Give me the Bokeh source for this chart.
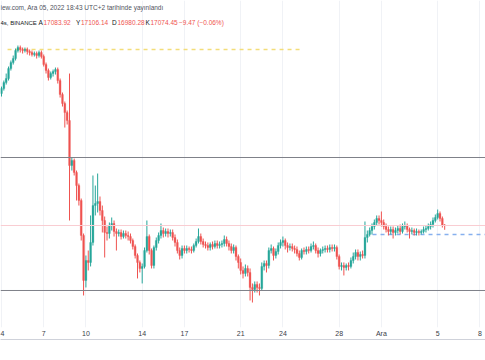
from bokeh.plotting import figure
from bokeh.models import Span, Label, FixedTicker, LinearAxis, Range1d, ColumnDataSource
from bokeh.embed import file_html
from bokeh.resources import INLINE

# ---- data: BTC/USDT, 4h candles, Binance, 4 Kasım – 5 Aralık 2022 ----
start_day = 4.0           # 4 Nov 00:00 (x axis unit = day of Nov; Dec 1 = 31)
step_day = 4.0 / 24.0     # 4 hour candles
first_open = 20217

closes = [
    20347, 20504, 20609, 20874, 21035, 21143, 21361, 21443, 21389, 21361,
    21389, 21334, 21307, 21252, 21279, 21225, 21307, 21198, 20981, 20821,
    20635, 20741, 20794, 20848, 20556, 20192, 19960, 19731, 19530, 18437,
    18556, 18273, 17970, 17629, 16857, 15914, 16326, 16285, 16707, 17516,
    17562, 17607, 17405, 17184, 16922, 16900, 17074, 17118, 16943, 16900,
    16922, 16835, 16900, 16857, 16835, 16749, 16621, 16431, 16285, 16160,
    16202, 16536, 16835, 16536, 16222, 16600, 16749, 16857, 16965, 16900,
    16943, 16900, 16922, 16814, 16707, 16536, 16431, 16579, 16536, 16579,
    16558, 16536, 16642, 16728, 16835, 16728, 16664, 16642, 16600, 16664,
    16621, 16685, 16642, 16664, 16685, 16771, 16685, 16621, 16536, 16600,
    16410, 16285, 16119, 16057, 16160, 16078, 15772, 15731, 15833, 15772,
    15752, 16202, 16264, 16222, 16536, 16579, 16431, 16515, 16642, 16707,
    16749, 16642, 16600, 16621, 16579, 16558, 16473, 16389, 16536, 16515,
    16558, 16536, 16621, 16642, 16536, 16473, 16536, 16558, 16579, 16558,
    16600, 16579, 16600, 16410, 16202, 16222, 16181, 16222, 16202, 16326,
    16410, 16494, 16410, 16452, 16431, 16814, 16879, 16965, 17052, 17140,
    17228, 17184, 17140, 17052, 16987, 16943, 16987, 16922, 16965, 17009,
    16943, 17052, 17074, 16987, 16943, 16965, 16922, 16943, 16922, 16943,
    16987, 17009, 17052, 17096, 17184, 17250, 17338, 17228, 17083.92, 17074.45,
]
highs = [
    20398, 20556, 20741, 20928, 21090, 21225, 21416, 21498, 21498, 21443,
    21443, 21443, 21389, 21361, 21334, 21334, 21361, 21361, 21252, 21035,
    20874, 20794, 20848, 20901, 20901, 20609, 20243, 20011, 19782, 20741,
    18627, 18602, 18319, 18017, 17674, 16900, 16431, 16536, 17295, 18203,
    17970, 18249, 17720, 17516, 17272, 17052, 17140, 17250, 17184, 17009,
    16987, 16987, 16965, 16965, 16943, 16900, 16792, 16664, 16473, 16326,
    16264, 16600, 17184, 16879, 16579, 16642, 16814, 16922, 17118, 17030,
    17009, 17009, 16987, 16987, 16879, 16771, 16600, 16642, 16642, 16642,
    16621, 16621, 16685, 16792, 17009, 16900, 16792, 16728, 16707, 16707,
    16728, 16749, 16749, 16728, 16749, 16857, 16835, 16749, 16685, 16664,
    16642, 16452, 16368, 16202, 16243, 16222, 16160, 15853, 15894, 15894,
    15853, 16285, 16326, 16326, 16600, 16664, 16621, 16579, 16707, 16771,
    16835, 16792, 16707, 16685, 16685, 16642, 16621, 16536, 16579, 16600,
    16621, 16621, 16685, 16728, 16685, 16600, 16579, 16621, 16642, 16642,
    16664, 16664, 16664, 16642, 16452, 16285, 16285, 16264, 16285, 16389,
    16494, 16558, 16558, 16515, 16536, 17162, 16965, 17030, 17118, 17206,
    17295, 17295, 17383, 17206, 17118, 17052, 17052, 17052, 17030, 17074,
    17096, 17118, 17162, 17118, 17030, 17030, 17009, 17009, 16987, 16987,
    17052, 17074, 17118, 17162, 17250, 17316, 17427, 17383, 17272, 17106.14,
]
lows = [
    20139, 20294, 20451, 20556, 20821, 20981, 21090, 21307, 21307, 21279,
    21307, 21252, 21225, 21198, 21198, 21143, 21170, 21143, 20928, 20741,
    20556, 20583, 20662, 20714, 20477, 20113, 19883, 19355, 19430, 17184,
    18319, 18203, 17629, 17516, 16749, 15611, 15772, 16119, 16202, 16642,
    17295, 17361, 17295, 16922, 16389, 16749, 16792, 16965, 16835, 16536,
    16835, 16771, 16792, 16792, 16749, 16685, 16558, 16368, 15955, 16078,
    15853, 16160, 16494, 16452, 16160, 16160, 16536, 16685, 16792, 16814,
    16835, 16814, 16835, 16749, 16621, 16473, 16347, 16368, 16473, 16473,
    16494, 16473, 16494, 16600, 16685, 16664, 16600, 16579, 16536, 16536,
    16558, 16579, 16579, 16579, 16600, 16621, 16621, 16536, 16473, 16473,
    16326, 16160, 16037, 15955, 15995, 15995, 15511, 15471, 15670, 15670,
    15611, 15711, 16119, 16078, 16160, 16473, 16326, 16368, 16452, 16579,
    16621, 16558, 16494, 16536, 16515, 16473, 16410, 16326, 16347, 16452,
    16452, 16473, 16494, 16558, 16473, 16389, 16410, 16473, 16494, 16494,
    16494, 16515, 16515, 16347, 16140, 16119, 16016, 16119, 16119, 16160,
    16264, 16347, 16326, 16326, 16368, 16368, 16707, 16835, 16879, 16987,
    17074, 17096, 17052, 16987, 16922, 16857, 16879, 16792, 16857, 16900,
    16879, 16900, 16987, 16922, 16792, 16879, 16857, 16857, 16857, 16879,
    16900, 16922, 16965, 16987, 17030, 17140, 17206, 17162, 17030, 16980.28,
]

# horizontal levels drawn on the chart
level_upper = 18627
level_lower = 15711
level_yellow = 21389
level_blue = 16879
last_price = 17074.45

tick_days = [4, 7, 10, 14, 17, 21, 24, 28, 31, 35, 38]
tick_labels = ["4", "7", "10", "14", "17", "21", "24", "28", "Ara", "5", "8"]

header_line1 = "iew.com, Ara 05, 2022 18:43 UTC+2 tarihinde yayınlandı"
symbol_text = "4s, BINANCE"
ohlc_names = ["A", "Y", "D", "K"]
ohlc_values = ["17083.92", "17106.14", "16980.28", "17074.45"]
change_text = "\u22129.47 (\u22120.06%)"

# ---- derived columns ----
opens = [first_open] + closes[:-1]
days = [start_day + i * step_day for i in range(len(closes))]
UP, DOWN = "#26a69a", "#ef5350"
colors = [UP if c >= o else DOWN for o, c in zip(opens, closes)]
tops = [max(o, c) for o, c in zip(opens, closes)]
bottoms = [min(o, c) for o, c in zip(opens, closes)]
src = ColumnDataSource(dict(x=days, o=opens, c=closes, h=highs, l=lows,
                            top=tops, bottom=bottoms, color=colors))

W, H = 485, 360
FRAME_H = 327
p = figure(width=W, height=H, output_backend="svg", toolbar_location=None,
           x_range=Range1d(3.929, 38.40), y_range=Range1d(14984, 22774),
           y_axis_type="log", y_axis_location=None,
           min_border_left=0, min_border_right=0, min_border_top=0,
           min_border_bottom=H - FRAME_H,
           background_fill_color="white", border_fill_color="white",
           outline_line_color=None)

p.xaxis.ticker = FixedTicker(ticks=tick_days)
p.xaxis.major_label_overrides = {d: t for d, t in zip(tick_days, tick_labels)}
p.xaxis.axis_line_color = None
p.xaxis.major_tick_line_color = None
p.xaxis.minor_tick_line_color = None
p.xaxis.major_tick_out = 0
p.xaxis.major_tick_in = 0
p.xaxis.major_label_text_font_size = "7px"
p.xaxis.major_label_text_font = "Liberation Sans"
p.xaxis.major_label_text_color = "#3a3d47"
p.xaxis.major_label_standoff = 2
p.xgrid.grid_line_color = "#f0f2f6"
p.ygrid.grid_line_color = None

bottom_line = LinearAxis(ticker=FixedTicker(ticks=[]), axis_line_color="#cfd2da",
                         major_tick_line_color=None, minor_tick_line_color=None,
                         major_tick_out=0, major_tick_in=0,
                         major_label_text_font_size="0px")
p.add_layout(bottom_line, "below")

# levels
p.add_layout(Span(location=last_price, dimension="width", line_color="#f9cdd2", line_width=1))
p.add_layout(Span(location=level_upper, dimension="width", line_color="#7f8189", line_width=1))
p.add_layout(Span(location=level_lower, dimension="width", line_color="#7f8189", line_width=1))
p.segment(x0=[4.43], y0=[level_yellow], x1=[25.25], y1=[level_yellow],
          line_color="#f3dd7a", line_width=1.5, line_dash="4 4")
p.segment(x0=[30.37], y0=[level_blue], x1=[40.0], y1=[level_blue],
          line_color="#86b0ee", line_width=1.5, line_dash="4 4")

# candles
p.segment(x0="x", y0="l", x1="x", y1="h", line_color="color", line_width=1, source=src)
p.vbar(x="x", width=0.13, top="top", bottom="bottom", fill_color="color",
       line_color="color", line_width=0.3, source=src)

# header texts
FONT = "Liberation Sans"
p.add_layout(Label(x=0, y=FRAME_H - 7, x_units="screen", y_units="screen",
                   text=header_line1, text_font=FONT, text_font_size="6.5px",
                   text_color="#50535e", text_baseline="middle"))
y2 = FRAME_H - 22
p.add_layout(Label(x=0, y=y2, x_units="screen", y_units="screen", text=symbol_text,
                   text_font=FONT, text_font_size="6px",
                   text_color="#131722", text_baseline="middle"))
name_x = [38.0, 75.5, 111.5, 145.0]
val_x = [43.0, 80.5, 117.0, 150.0]
for nx, vx, n, v in zip(name_x, val_x, ohlc_names, ohlc_values):
    p.add_layout(Label(x=nx, y=y2, x_units="screen", y_units="screen", text=n,
                       text_font=FONT, text_font_size="6.5px", text_color="#131722",
                       text_baseline="middle"))
    p.add_layout(Label(x=vx, y=y2, x_units="screen", y_units="screen", text=v,
                       text_font=FONT, text_font_size="6.5px", text_color="#ef5350",
                       text_baseline="middle"))
p.add_layout(Label(x=178.5, y=y2, x_units="screen", y_units="screen", text=change_text,
                   text_font=FONT, text_font_size="6.5px", text_color="#ef5350",
                   text_baseline="middle"))

open("out.html", "w").write(file_html(p, INLINE))
